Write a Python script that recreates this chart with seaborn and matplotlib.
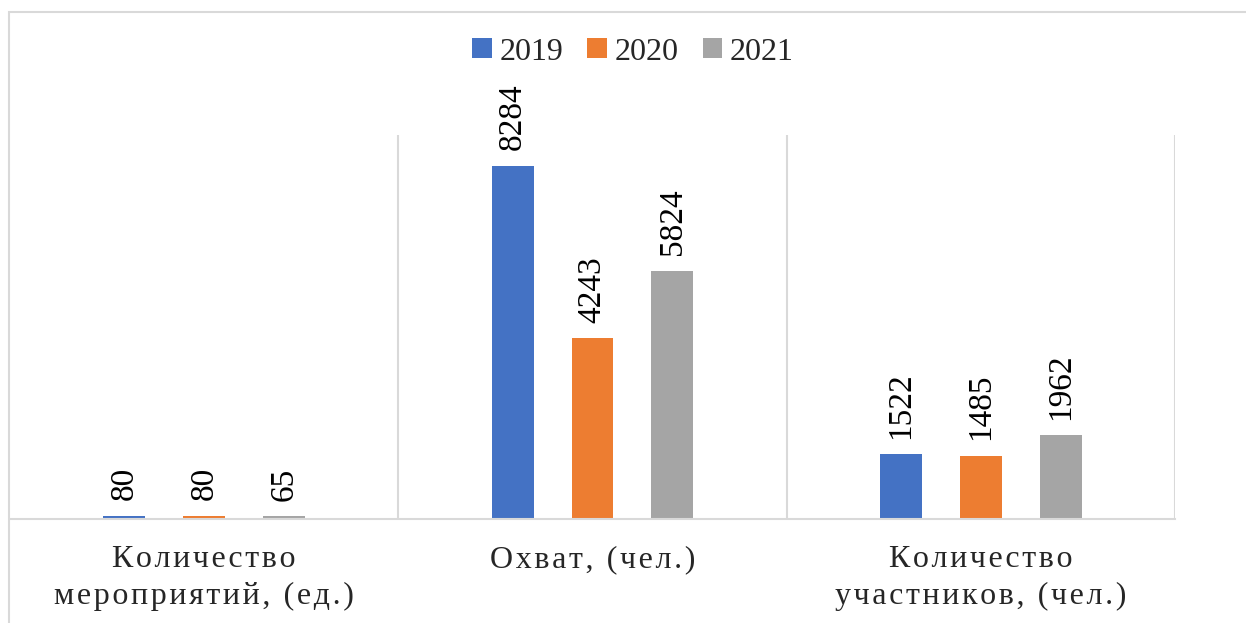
import seaborn as sns
import matplotlib.pyplot as plt
import pandas as pd
from matplotlib.patches import Rectangle, Patch

# data
categories = ["Количество\nмероприятий, (ед.)", "Охват, (чел.)", "Количество\nучастников, (чел.)"]
years = ["2019", "2020", "2021"]
values_2019 = [80, 8284, 1522]
values_2020 = [80, 4243, 1485]
values_2021 = [65, 5824, 1962]

colors = ["#4472C4", "#ED7D31", "#A5A5A5"]
grid_color = "#D9D9D9"

rows = []
for year, vals in zip(years, [values_2019, values_2020, values_2021]):
    for cat, v in zip(categories, vals):
        rows.append({"category": cat, "year": year, "value": v})
df = pd.DataFrame(rows)

sns.set_style("white")
plt.rcParams["font.family"] = ["Liberation Serif", "DejaVu Serif"]

fig = plt.figure(figsize=(12.46, 6.23), dpi=100, facecolor="white")
ax = fig.add_axes([10 / 1246, 1 - 519 / 623, 1165 / 1246, 384 / 623])

sns.barplot(data=df, x="category", y="value", hue="year", order=categories, hue_order=years,
            palette=colors, saturation=1, width=0.617, gap=0.475, errorbar=None,
            linewidth=0, legend=False, ax=ax)

# data labels
for cont in ax.containers:
    ax.bar_label(cont, rotation=90, padding=11, fontsize=24, color="#000000")

ax.set_ylim(0, 9000)
ax.set_xlim(-0.5, 2.5)
ax.set_yticks([])
ax.set_xlabel(None)
ax.set_ylabel(None)

# category separators like excel
for xv in [0.5, 1.5, 2.5]:
    ax.axvline(xv, color=grid_color, linewidth=1.5, zorder=0)

for s in ["left", "right", "top"]:
    ax.spines[s].set_visible(False)
ax.spines["bottom"].set_color(grid_color)
ax.spines["bottom"].set_linewidth(1.5)

# spaced-out category labels (excel letter spacing)
spaced = ["\n".join("\u200a".join(line) for line in c.split("\n")) for c in categories]
ax.set_xticks(range(len(categories)))
ax.set_xticklabels(spaced)
ax.tick_params(axis="x", length=0, pad=19, labelsize=23)
for lbl in ax.get_xticklabels():
    lbl.set_linespacing(1.32)

# legend
handles = [Patch(facecolor=c, edgecolor="none") for c in colors]
fig.legend(handles, years, loc="center", bbox_to_anchor=(0.508, 1 - 52 / 623),
           ncol=3, frameon=False, fontsize=23, handlelength=0.6, handleheight=0.6,
           handletextpad=0.25, columnspacing=0.75)

# chart border
fig.patches.append(Rectangle((9 / 1246, -0.05), 1.1, 1 - 12 / 623 + 0.05,
                             transform=fig.transFigure, fill=False,
                             edgecolor=grid_color, linewidth=1.5, clip_on=False))

plt.savefig("out.png", dpi=100, facecolor="white")
